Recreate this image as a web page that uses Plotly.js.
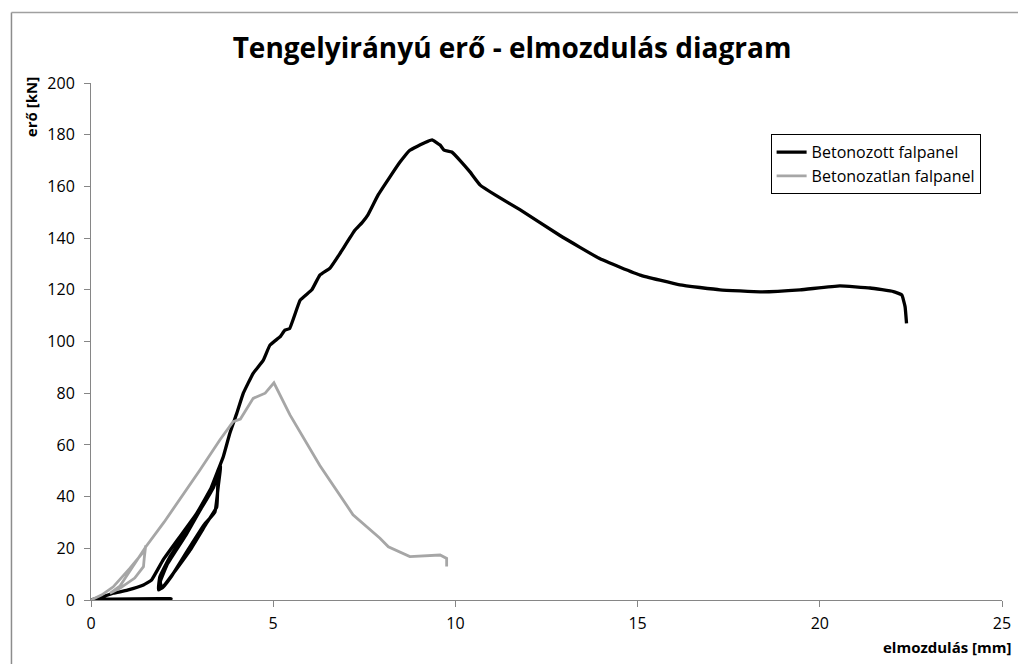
<!DOCTYPE html>
<html>
<head>
<meta charset="utf-8">
<script src="https://cdn.plot.ly/plotly-3.0.1.min.js"></script>
<style>html,body{margin:0;padding:0;background:#fff;}#chart{width:1018px;height:664px;}</style>
</head>
<body>
<div id="chart"></div>
<script>
// Betonozott falpanel (black)
const xBetonozott = [0, 2.2, 0.1, 0, 0.3, 0.61, 1.0, 1.44, 1.66, 1.98, 2.44, 2.9, 3.36, 3.54,
  3.49, 3.45, 3.17, 2.72, 2.26, 1.98, 1.85, 1.89, 2.17, 2.72, 3.36, 3.56,
  3.5, 3.4, 3.1, 2.6, 2.2, 1.95, 1.9, 2.1, 2.6, 3.2, 3.49, 3.63, 3.81, 4.0, 4.18, 4.45, 4.73, 4.91,
  5.2, 5.32, 5.45, 5.74, 6.06, 6.28, 6.56, 6.83, 7.24, 7.44, 7.6, 7.88, 8.2, 8.48, 8.75, 9.17, 9.36,
  9.58, 9.69, 9.9, 10.13, 10.4, 10.68, 11.09, 11.77, 12.87, 13.97, 15.07, 16.16, 17.26, 18.36,
  19.46, 20.55, 21.38, 22.02, 22.25, 22.34, 22.38];
const yBetonozott = [0, 0.5, 0.3, 0, 1.2, 2.6, 3.8, 5.8, 7.7, 15.5, 24.5, 33.5, 45, 51.6,
  49, 36, 29.7, 19.3, 10.3, 5.1, 3.9, 9, 16.8, 28.4, 43.5, 52,
  45, 34, 29, 18, 9, 4.5, 7, 14, 25, 40, 50.3, 55.4, 64.5, 72.2, 80, 87.7, 92.8, 98.6,
  102, 104.4, 105, 116, 120, 125.7, 128.4, 134, 143, 146, 149, 156.7, 163.6, 169.4, 174, 177, 178,
  176, 174, 173.3, 170, 165.6, 160.5, 156.7, 151, 141, 132, 125.7, 121.9, 120, 119.2,
  120, 121.5, 120.7, 119.3, 118, 113.5, 107];

// Betonozatlan falpanel (grey)
const xBetonozatlan = [0, 0.3, 0.61, 1.07, 1.48, 1.5, 1.46, 1.44, 1.2, 0.8, 0.52, 0.8, 1.1, 1.5,
  2.0, 2.5, 2.99, 3.54, 3.9, 4.1, 4.45, 4.78, 5.02, 5.46, 6.28, 7.19, 7.93, 8.16, 8.75, 9.58, 9.76, 9.76];
const yBetonozatlan = [0, 2, 5.1, 12.3, 19.3, 21, 16, 12.9, 8.5, 4.6, 2.6, 5.5, 12, 20.5,
  30, 40, 50.3, 62, 69, 70, 78, 80, 84, 71.6, 52, 33, 23.9, 20.6, 16.8, 17.4, 16.1, 13];

const seriesNames = ['Betonozott falpanel', 'Betonozatlan falpanel'];
const xTicks = [0, 5, 10, 15, 20, 25];
const yTicks = [0, 20, 40, 60, 80, 100, 120, 140, 160, 180, 200];

const FONT = '"Open Sans", sans-serif';

const traces = [
  {x: xBetonozott, y: yBetonozott, name: seriesNames[0], mode: 'lines', type: 'scatter',
   line: {color: '#000000', width: 3.3, shape: 'spline', smoothing: 0.3}},
  {x: xBetonozatlan, y: yBetonozatlan, name: seriesNames[1], mode: 'lines', type: 'scatter',
   line: {color: '#a6a6a6', width: 2.8}}
];

const layout = {
  width: 1018, height: 664,
  margin: {l: 91, r: 16, t: 83, b: 64},
  paper_bgcolor: '#ffffff', plot_bgcolor: '#ffffff',
  font: {family: FONT, size: 15, color: '#000'},
  title: {text: '<b>Tengelyirányú erő - elmozdulás diagram</b>', font: {family: FONT, size: 28, color: '#000'},
          x: 0.503, xanchor: 'center', y: 0.928, yanchor: 'middle'},
  showlegend: true,
  legend: {x: 0.746, y: 0.901, xanchor: 'left', yanchor: 'top', bgcolor: '#fff',
           bordercolor: '#000', borderwidth: 1, font: {family: FONT, size: 16, color: '#000'},
           tracegroupgap: 0, itemwidth: 30},
  xaxis: {range: [0, 25], tickvals: xTicks, ticks: 'outside', ticklen: 6, tickcolor: '#868686',
          showline: true, linecolor: '#868686', linewidth: 1, showgrid: false, zeroline: false,
          ticklabelstandoff: 3,
          tickfont: {family: FONT, size: 16, color: '#000'}, fixedrange: true},
  yaxis: {range: [0, 200], tickvals: yTicks, ticks: 'outside', ticklen: 6, tickcolor: '#868686',
          showline: true, linecolor: '#868686', linewidth: 1, showgrid: false, zeroline: false,
          ticklabelstandoff: 6,
          tickfont: {family: FONT, size: 16, color: '#000'}, fixedrange: true},
  annotations: [
    {text: '<b>elmozdulás [mm]</b>', xref: 'paper', yref: 'paper', x: 1.013, y: -0.091,
     xanchor: 'right', yanchor: 'middle', showarrow: false, font: {family: FONT, size: 15, color: '#000'}},
    {text: '<b>erő [kN]</b>', xref: 'paper', yref: 'paper', x: -0.066, y: 0.953,
     xanchor: 'center', yanchor: 'middle', textangle: -90, showarrow: false,
     font: {family: FONT, size: 15, color: '#000'}}
  ],
  shapes: [
    {type: 'line', xref: 'paper', yref: 'paper', x0: -0.0873, x1: -0.0873, y0: 1.1364, y1: -0.2,
     line: {color: '#8c8c8c', width: 1.5}},
    {type: 'line', xref: 'paper', yref: 'paper', x0: -0.0873, x1: 1.02, y0: 1.1364, y1: 1.1364,
     line: {color: '#a0a0a0', width: 1.5}}
  ]
};

Plotly.newPlot('chart', traces, layout, {displayModeBar: false, staticPlot: true});
</script>
</body>
</html>
